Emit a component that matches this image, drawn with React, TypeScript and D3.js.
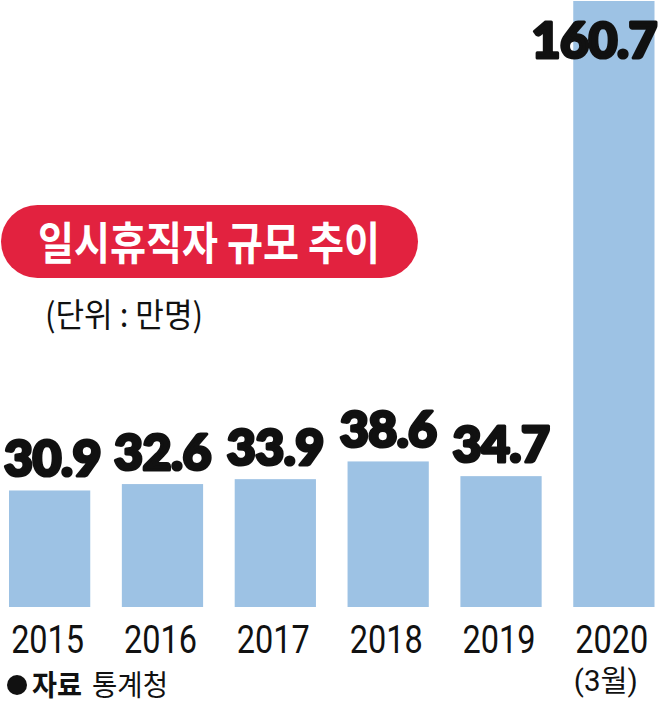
import React, { useEffect, useRef } from "react";
import * as d3 from "d3";

const years = ["2015", "2016", "2017", "2018", "2019", "2020"];
const yearSub = ["", "", "", "", "", "(3월)"];
const values = [30.9, 32.6, 33.9, 38.6, 34.7, 160.7];
const valueLabels = ["30.9", "32.6", "33.9", "38.6", "34.7", "160.7"];
const title = "일시휴직자 규모 추이";
const unitText = "(단위 : 만명)";
const sourceLabel = "자료";
const sourceName = "통계청";

const W = 660;
const H = 704;
const BAR = "#9dc2e4";
const RED = "#e2223f";
const INK = "#111111";
const KFONT = "'Noto Sans CJK KR', 'Noto Sans', sans-serif";
const DIGITFONT = "Roboto, 'Open Sans', 'Noto Sans CJK KR', sans-serif";
const NUMFONT = "Lato, Roboto, 'DejaVu Sans', sans-serif";

export default function App() {
  const ref = useRef<SVGSVGElement | null>(null);

  useEffect(() => {
    const svg = d3.select(ref.current);
    svg.selectAll("*").remove();

    const x = d3.scaleBand<string>().domain(years).range([9, 654.5]).paddingInner(0.28).paddingOuter(0);
    const y = d3.scaleLinear().domain([0, 160.7]).range([607, 1]);

    // bars
    svg.append("g")
      .selectAll("rect")
      .data(values)
      .join("rect")
      .attr("x", (_, i) => x(years[i])!)
      .attr("y", (d) => y(d))
      .attr("width", x.bandwidth())
      .attr("height", (d) => y(0) - y(d))
      .attr("fill", BAR);

    // value labels
    const lbl = svg.append("g")
      .selectAll("text")
      .data(values)
      .join("text")
      .attr("font-family", NUMFONT)
      .attr("font-weight", 900)
      .attr("font-size", 50)
      .attr("letter-spacing", -0.5)
      .attr("fill", INK)
      .attr("stroke", INK)
      .attr("stroke-width", 3.2)
      .attr("stroke-linejoin", "round")
      .attr("text-anchor", "start")
      .attr("y", (d) => Math.max(y(d) - 14, 58))
      .text((_, i) => valueLabels[i]);
    lbl.each(function (_, i) {
      const t = this as SVGTextElement;
      const w = t.getComputedTextLength();
      const cx = x(years[i])! + x.bandwidth() / 2;
      let left = cx - w / 2;
      left = Math.max(4, Math.min(left, 657 - w));
      d3.select(t).attr("x", left);
    });

    // year labels
    const yl = svg.append("g")
      .attr("fill", INK)
      .attr("text-anchor", "middle");
    yl.selectAll("text.yr")
      .data(years)
      .join("text")
      .attr("class", "yr")
      .attr("font-family", DIGITFONT)
      .attr("font-weight", 400)
      .attr("x", (d) => x(d)! + x.bandwidth() / 2 - 2)
      .attr("y", 653)
      .attr("font-size", 38)
      .attr("textLength", 73)
      .attr("lengthAdjust", "spacingAndGlyphs")
      .text((d) => d);
    yl.selectAll("text.sub")
      .data(yearSub.filter((s) => s !== ""))
      .join("text")
      .attr("class", "sub")
      .attr("font-family", DIGITFONT)
      .attr("font-weight", 400)
      .attr("x", () => x(years[yearSub.findIndex((s) => s !== "")])! + x.bandwidth() / 2 - 8)
      .attr("y", 691)
      .attr("font-size", 30)
      .attr("textLength", 64)
      .attr("lengthAdjust", "spacingAndGlyphs")
      .text((d) => d);

    // title pill
    svg.append("rect")
      .attr("x", 1)
      .attr("y", 205)
      .attr("width", 417)
      .attr("height", 73)
      .attr("rx", 36.5)
      .attr("fill", RED);
    svg.append("text")
      .attr("x", 209)
      .attr("y", 260)
      .attr("text-anchor", "middle")
      .attr("font-family", KFONT)
      .attr("font-weight", 700)
      .attr("font-size", 45)
      .attr("fill", "#ffffff")
      .attr("textLength", 342)
      .attr("lengthAdjust", "spacingAndGlyphs")
      .text(title);

    // unit
    svg.append("text")
      .attr("x", 45)
      .attr("y", 327)
      .attr("font-family", KFONT)
      .attr("font-weight", 400)
      .attr("font-size", 33)
      .attr("fill", INK)
      .attr("textLength", 158)
      .attr("lengthAdjust", "spacingAndGlyphs")
      .text(unitText);

    // source
    svg.append("circle").attr("cx", 17).attr("cy", 685).attr("r", 10).attr("fill", INK);
    svg.append("text")
      .attr("x", 32)
      .attr("y", 696)
      .attr("font-family", KFONT)
      .attr("font-weight", 700)
      .attr("font-size", 29)
      .attr("fill", INK)
      .attr("textLength", 50)
      .attr("lengthAdjust", "spacingAndGlyphs")
      .text(sourceLabel);
    svg.append("text")
      .attr("x", 92)
      .attr("y", 696)
      .attr("font-family", KFONT)
      .attr("font-weight", 400)
      .attr("font-size", 29)
      .attr("fill", INK)
      .attr("textLength", 76)
      .attr("lengthAdjust", "spacingAndGlyphs")
      .text(sourceName);
  }, []);

  return (
    <svg
      ref={ref}
      width={W}
      height={H}
      viewBox={`0 0 ${W} ${H}`}
      style={{ position: "absolute", left: 0, top: 0, background: "#ffffff" }}
    />
  );
}
